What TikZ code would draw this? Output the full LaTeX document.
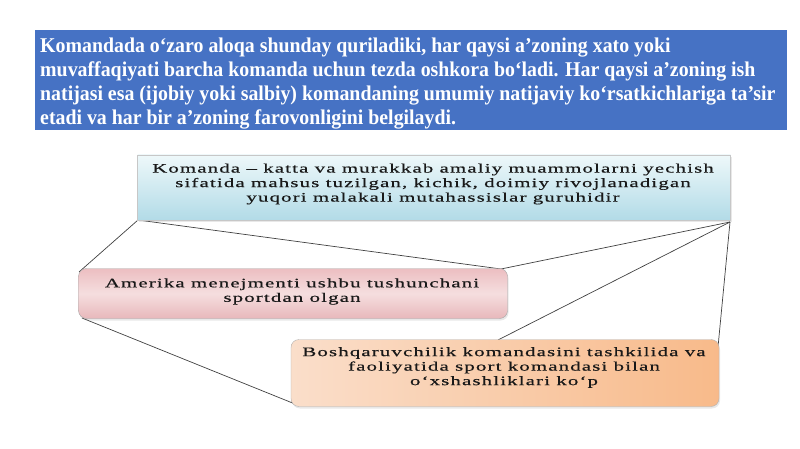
\documentclass[tikz,border=0pt]{standalone}
\usepackage{fontspec}
\usetikzlibrary{shadows}
\setmainfont{Liberation Serif}
\newfontfamily\titlefont[FakeStretch=0.945]{Liberation Serif}
\newfontfamily\boxfont[FakeStretch=1.6,LetterSpace=9,FakeBold=0.5]{Liberation Serif}
\definecolor{titleblue}{HTML}{4672C4}
\definecolor{linegray}{HTML}{404040}
\tikzset{
  softshadow/.style={drop shadow={opacity=0.18, shadow xshift=1pt, shadow yshift=-2pt}},
  titlebox/.style={fill=titleblue, draw=none, minimum width=752pt, minimum height=100pt, inner sep=0pt},
  defbox/.style={draw=black!22, top color={rgb,255:red,238;green,248;blue,250}, bottom color={rgb,255:red,178;green,219;blue,231},
    minimum width=593pt, minimum height=65pt, inner sep=0pt, align=center, softshadow},
  pinkbox/.style={draw=black!35, rounded corners=8pt, top color={rgb,255:red,236;green,190;blue,193},
    bottom color={rgb,255:red,232;green,184;blue,187}, middle color={rgb,255:red,245;green,222;blue,223},
    minimum width=429pt, minimum height=50pt, inner sep=0pt, align=center, softshadow},
  peachbox/.style={draw=black!30, rounded corners=8pt, left color={rgb,255:red,250;green,222;blue,202},
    middle color={rgb,255:red,251;green,206;blue,168}, right color={rgb,255:red,248;green,186;blue,138},
    minimum width=428pt, minimum height=67pt, inner sep=0pt, align=center, softshadow},
  conn/.style={draw=linegray, line width=0.7pt},
  boxtext/.style={font=\boxfont\fontsize{13}{14.5}\selectfont, text=black!90}
}
\begin{document}
\begin{tikzpicture}[x=1pt,y=-1pt]
\useasboundingbox (0,0) rectangle (800,449);
% title
\node[titlebox] (title) at (411,80) {};
\node[anchor=north west, align=left, text=white, inner sep=0pt,
  font=\titlefont\bfseries\fontsize{21}{24}\selectfont] (titletext) at (40,37.5)
  {Komandada o‘zaro aloqa shunday quriladiki, har qaysi a’zoning xato yoki\\
   muvaffaqiyati barcha komanda uchun tezda oshkora bo‘ladi. Har qaysi a’zoning ish\\
   natijasi esa (ijobiy yoki salbiy) komandaning umumiy natijaviy ko‘rsatkichlariga ta’sir\\
   etadi va har bir a’zoning farovonligini belgilaydi.};
% connectors (behind boxes)
\coordinate (tsw) at (138,220);
\coordinate (tse) at (730,222);
\coordinate (lnw) at (79,272);
\coordinate (lne) at (501,269);
\coordinate (lsw) at (82,318);
\coordinate (bsw) at (295,404);
\coordinate (bnm) at (498,340);
\coordinate (bne) at (718,347);
\draw[conn] (tsw) -- (lnw);
\draw[conn] (tsw) -- (lne);
\draw[conn] (tse) -- (lne);
\draw[conn] (tse) -- (bnm);
\draw[conn] (tse) -- (bne);
\draw[conn] (lsw) -- (bsw);
% boxes
\node[defbox] (def) at (434,187.5) {};
\node[pinkbox] (amer) at (293,293.5) {};
\node[peachbox] (bosh) at (505,373) {};
% texts
\node[boxtext, align=center] (deftext) at (433,184)
  {Komanda – katta va murakkab amaliy muammolarni yechish\\
   sifatida mahsus tuzilgan, kichik, doimiy rivojlanadigan\\
   yuqori malakali mutahassislar guruhidir};
\node[boxtext, align=center] (amertext) at (292,291.5)
  {Amerika menejmenti ushbu tushunchani\\ sportdan olgan};
\node[boxtext, align=center] (boshtext) at (504,367.5)
  {Boshqaruvchilik komandasini tashkilida va\\
   faoliyatida sport komandasi bilan\\
   o‘xshashliklari ko‘p};
\end{tikzpicture}
\end{document}
